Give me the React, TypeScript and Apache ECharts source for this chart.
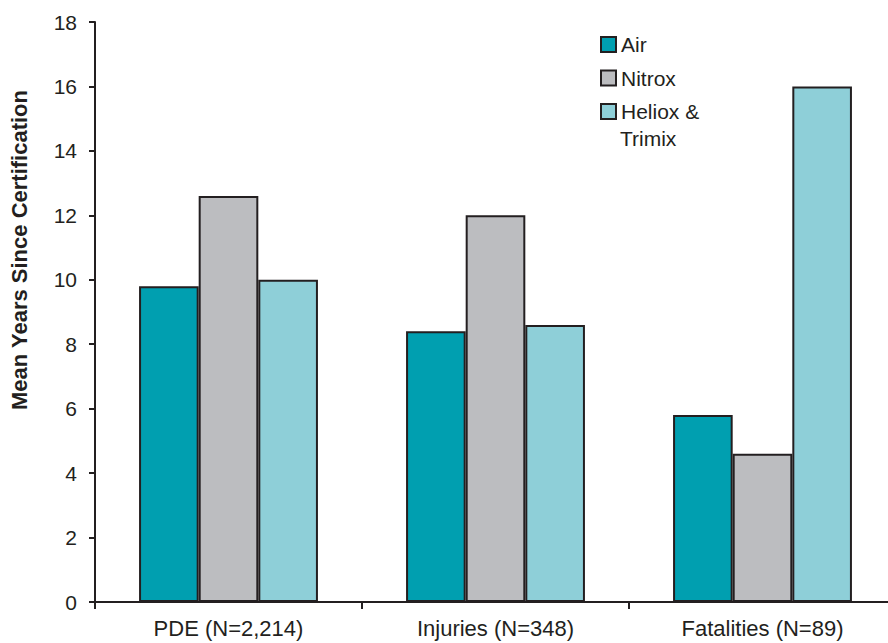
import React, { useEffect, useRef } from "react";
import * as echarts from "echarts";

const categories = ["PDE (N=2,214)", "Injuries (N=348)", "Fatalities (N=89)"];
const seriesNames = ["Air", "Nitrox", "Heliox & Trimix"];
const airValues = [9.8, 8.4, 5.8];
const nitroxValues = [12.6, 12.0, 4.6];
const helioxValues = [10.0, 8.6, 16.0];
const yTicks = { min: 0, max: 18, interval: 2 };
const yAxisTitle = "Mean Years Since Certification";

const colors = ["#009fb0", "#bcbdc0", "#8ecfd8"];
const ink = "#231f20";
const FONT = "'Liberation Sans', Arial, sans-serif";

export default function App() {
  const ref = useRef<HTMLDivElement>(null);
  useEffect(() => {
    if (!ref.current) return;
    const chart = echarts.init(ref.current, null, { renderer: "svg" });
    const values = [airValues, nitroxValues, helioxValues];
    chart.setOption({
      animation: false,
      backgroundColor: "#ffffff",
      textStyle: { fontFamily: FONT, color: ink },
      grid: { left: 95, right: 0, top: 22, bottom: 41 },
      legend: {
        orient: "vertical",
        left: 600,
        top: 34,
        padding: 0,
        itemWidth: 15,
        itemHeight: 15,
        itemGap: 12.5,
        icon: "rect",
        data: seriesNames,
        formatter: (name: string) => (name === "Heliox & Trimix" ? "Heliox &" : name),
        textStyle: { fontFamily: FONT, fontSize: 21, color: ink },
      },
      xAxis: {
        type: "category",
        data: categories,
        axisLine: { lineStyle: { color: ink, width: 2 } },
        axisTick: { show: true, length: 7, lineStyle: { color: ink, width: 2 } },
        axisLabel: { fontFamily: FONT, fontSize: 22, color: ink, margin: 15 },
      },
      yAxis: {
        type: "value",
        min: yTicks.min,
        max: yTicks.max,
        interval: yTicks.interval,
        splitLine: { show: false },
        axisLine: { show: true, lineStyle: { color: ink, width: 2 } },
        axisTick: { show: true, length: 6, lineStyle: { color: ink, width: 2 } },
        axisLabel: { fontFamily: FONT, fontSize: 21, color: ink, margin: 18 },
      },
      series: seriesNames.map((name, i) => ({
        name,
        type: "bar",
        data: values[i],
        barGap: "0%",
        barCategoryGap: "33%",
        itemStyle: { color: colors[i], borderColor: ink, borderWidth: 2 },
      })),
      graphic: [
        {
          type: "text",
          x: 19,
          y: 250,
          rotation: Math.PI / 2,
          style: {
            text: yAxisTitle,
            font: `bold 22px ${FONT}`,
            fill: ink,
            align: "center",
            verticalAlign: "middle",
          },
        },
        {
          type: "text",
          left: 620,
          top: 128,
          style: { text: "Trimix", font: `21px ${FONT}`, fill: ink },
        },
      ],
    });
    return () => chart.dispose();
  }, []);
  return (
    <div
      style={{ position: "fixed", left: 0, top: 0, width: 888, height: 643, overflow: "hidden" }}
    >
      <div ref={ref} style={{ width: 896, height: 643 }} />
    </div>
  );
}
